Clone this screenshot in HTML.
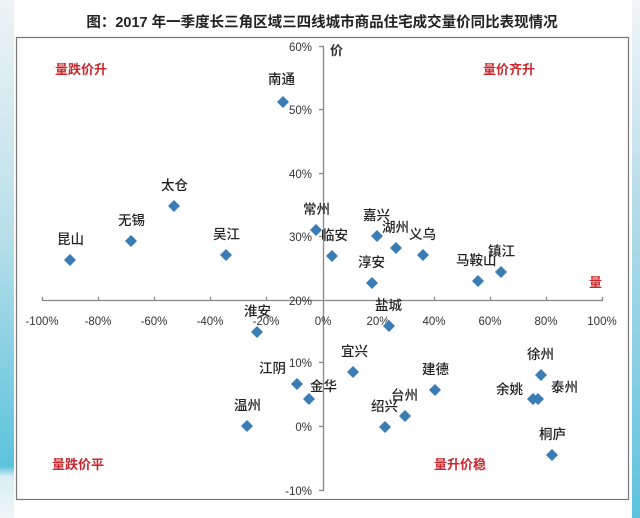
<!DOCTYPE html>
<html><head><meta charset="utf-8"><style>
body{margin:0;width:640px;height:518px;overflow:hidden;background:#fff;}
svg{display:block;font-family:"Liberation Sans","Noto Sans CJK SC",sans-serif;}
</style></head><body>
<svg width="640" height="518" viewBox="0 0 640 518">
<defs>
<linearGradient id="lg" x1="0" y1="0" x2="0" y2="1">
<stop offset="0" stop-color="#eef4f6"/><stop offset="0.45" stop-color="#b9dfea"/><stop offset="0.9" stop-color="#5bc3dc"/><stop offset="0.92" stop-color="#d8eef4"/><stop offset="1" stop-color="#eef6f8"/></linearGradient>
<linearGradient id="rg" x1="0" y1="0" x2="0" y2="1">
<stop offset="0" stop-color="#f2f6f7"/><stop offset="0.4" stop-color="#b5dcea"/><stop offset="1" stop-color="#5cc3dd"/></linearGradient>
<path id="d" d="M0,-6 L6,0 L0,6 L-6,0Z" fill="#3a7cb4"/>
</defs>
<rect x="0" y="0" width="14" height="518" fill="url(#lg)"/>
<rect x="632" y="0" width="8" height="518" fill="url(#rg)"/>
<text x="322" y="27" text-anchor="middle" font-size="14.5" font-weight="bold" fill="#222">图：2017 年一季度长三角区域三四线城市商品住宅成交量价同比表现情况</text>
<rect x="16.5" y="37.5" width="612" height="462" fill="#fff" stroke="#777" stroke-width="1.2"/>
<g stroke="#888" stroke-width="1.3" fill="none">
<line x1="42" y1="300.5" x2="603" y2="300.5"/>
<line x1="323.5" y1="46" x2="323.5" y2="491"/>
<g>
<line x1="42.5" y1="297" x2="42.5" y2="301"/><line x1="98.5" y1="297" x2="98.5" y2="301"/><line x1="154.5" y1="297" x2="154.5" y2="301"/><line x1="210.5" y1="297" x2="210.5" y2="301"/><line x1="266.5" y1="297" x2="266.5" y2="301"/><line x1="378.5" y1="297" x2="378.5" y2="301"/><line x1="434.5" y1="297" x2="434.5" y2="301"/><line x1="490.5" y1="297" x2="490.5" y2="301"/><line x1="546.5" y1="297" x2="546.5" y2="301"/><line x1="602.5" y1="297" x2="602.5" y2="301"/>
<line x1="319" y1="46.5" x2="324" y2="46.5"/><line x1="319" y1="109.5" x2="324" y2="109.5"/><line x1="319" y1="173.5" x2="324" y2="173.5"/><line x1="319" y1="236.5" x2="324" y2="236.5"/><line x1="319" y1="362.5" x2="324" y2="362.5"/><line x1="319" y1="426.5" x2="324" y2="426.5"/><line x1="319" y1="490.5" x2="324" y2="490.5"/>
</g></g>
<g font-size="11.5" fill="#333" text-anchor="middle">
<text x="42" y="325">-100%</text><text x="98" y="325">-80%</text><text x="154" y="325">-60%</text><text x="210" y="325">-40%</text><text x="266" y="325">-20%</text><text x="323" y="325">0%</text><text x="378" y="325">20%</text><text x="434" y="325">40%</text><text x="490" y="325">60%</text><text x="546" y="325">80%</text><text x="602" y="325">100%</text>
</g>
<g font-size="11.5" fill="#333" text-anchor="end">
<text x="312" y="51">60%</text><text x="312" y="114">50%</text><text x="312" y="178">40%</text><text x="312" y="241">30%</text><text x="312" y="305">20%</text><text x="312" y="367">10%</text><text x="312" y="431">0%</text><text x="312" y="495">-10%</text>
</g>
<text x="330" y="55" font-size="13" font-weight="bold" fill="#333">价</text>
<g font-size="13" font-weight="bold" fill="#c8282e">
<text x="55" y="74">量跌价升</text><text x="483" y="74">量价齐升</text><text x="589" y="287">量</text><text x="52" y="469">量跌价平</text><text x="434" y="469">量升价稳</text>
</g>
<g>
<use href="#d" x="283" y="102"/><use href="#d" x="174" y="206"/><use href="#d" x="131" y="241"/><use href="#d" x="70" y="260"/><use href="#d" x="226" y="255"/><use href="#d" x="316" y="230"/><use href="#d" x="332" y="256"/><use href="#d" x="377" y="236"/><use href="#d" x="396" y="248"/><use href="#d" x="423" y="255"/><use href="#d" x="372" y="283"/><use href="#d" x="478" y="281"/><use href="#d" x="501" y="272"/><use href="#d" x="389" y="326"/><use href="#d" x="257" y="332"/><use href="#d" x="353" y="372"/><use href="#d" x="297" y="384"/><use href="#d" x="309" y="399"/><use href="#d" x="247" y="426"/><use href="#d" x="385" y="427"/><use href="#d" x="405" y="416"/><use href="#d" x="435" y="390"/><use href="#d" x="541" y="375"/><use href="#d" x="533" y="399"/><use href="#d" x="538" y="399"/><use href="#d" x="552" y="455"/>
</g>
<g font-size="13.5" fill="#222" font-weight="500">
<text x="268" y="84">南通</text><text x="161" y="190">太仓</text><text x="118" y="225">无锡</text><text x="57" y="244">昆山</text><text x="213" y="239">吴江</text><text x="303" y="214">常州</text><text x="321" y="240">临安</text><text x="363" y="220">嘉兴</text><text x="382" y="232">湖州</text><text x="409" y="239">义乌</text><text x="358" y="267">淳安</text><text x="456" y="265">马鞍山</text><text x="488" y="256">镇江</text><text x="375" y="310">盐城</text><text x="244" y="316">淮安</text><text x="341" y="356">宜兴</text><text x="259" y="373">江阴</text><text x="310" y="391">金华</text><text x="234" y="410">温州</text><text x="371" y="411">绍兴</text><text x="391" y="400">台州</text><text x="422" y="374">建德</text><text x="527" y="359">徐州</text><text x="496" y="394">余姚</text><text x="551" y="392">泰州</text><text x="539" y="439">桐庐</text>
</g>
</svg>
</body></html>
